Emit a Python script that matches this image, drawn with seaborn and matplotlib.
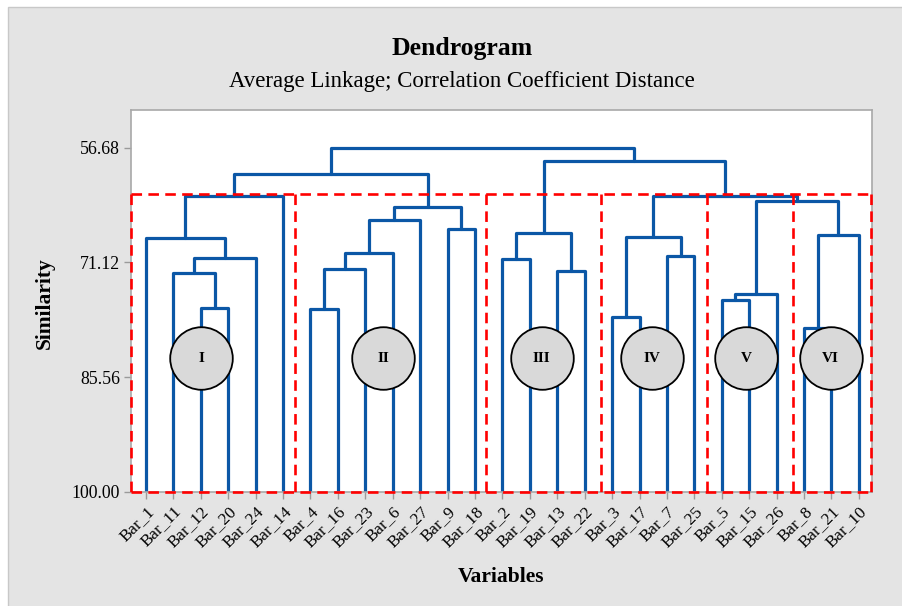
import numpy as np
import pandas as pd
import matplotlib.pyplot as plt
import seaborn as sns
from matplotlib.patches import Rectangle

# ── DATA ──────────────────────────────────────────────────
leaves = ["Bar_1", "Bar_11", "Bar_12", "Bar_20", "Bar_24", "Bar_14",
          "Bar_4", "Bar_16", "Bar_23", "Bar_6", "Bar_27", "Bar_9", "Bar_18",
          "Bar_2", "Bar_19", "Bar_13", "Bar_22",
          "Bar_3", "Bar_17", "Bar_7", "Bar_25",
          "Bar_5", "Bar_15", "Bar_26",
          "Bar_8", "Bar_21", "Bar_10"]

# merges: new cluster C<n> joins left + right at given similarity
merge_left = ["Bar_12", "Bar_11", "C2", "Bar_1", "C4",
              "Bar_4", "C6", "C7", "C8", "Bar_9", "C9", "C5",
              "Bar_2", "Bar_13", "C13",
              "Bar_3", "Bar_7", "C16",
              "Bar_5", "C19", "Bar_8", "C21", "C20", "C18", "C15", "C12"]
merge_right = ["Bar_20", "C1", "Bar_24", "C3", "Bar_14",
               "Bar_16", "Bar_23", "Bar_6", "Bar_27", "Bar_18", "C10", "C11",
               "Bar_19", "Bar_22", "C14",
               "Bar_17", "Bar_25", "C17",
               "Bar_15", "Bar_26", "Bar_21", "Bar_10", "C22", "C23", "C24", "C25"]
merge_sim = [76.89, 72.41, 70.60, 68.00, 62.72,
             77.01, 71.98, 69.89, 65.78, 66.87, 64.10, 60.03,
             70.65, 72.23, 67.45,
             78.02, 70.31, 67.88,
             75.84, 75.12, 79.40, 67.66, 63.39, 62.76, 58.35, 56.68]

groups = ["I", "II", "III", "IV", "V", "VI"]
y_ticks = [56.68, 71.12, 85.56, 100.00]

# ── LAYOUT (positions only) ───────────────────────────────
group_edges = [0.45, 6.44, 13.40, 17.60, 21.46, 24.59, 27.44]
cut_level = 62.54
circle_x = [3.02, 9.66, 15.43, 19.46, 22.90, 25.97]
circle_y = 83.18

# ── BUILD SEGMENTS ────────────────────────────────────────
pos = {name: i + 1 for i, name in enumerate(leaves)}
height = {name: 100.0 for name in leaves}
rows = []
for k, (a, b, s) in enumerate(zip(merge_left, merge_right, merge_sim)):
    name = f"C{k + 1}"
    xa, xb = pos[a], pos[b]
    for px, py in [(xa, height[a]), (xa, s), (xb, s), (xb, height[b])]:
        rows.append({"seg": k, "x": px, "y": py})
    pos[name] = (xa + xb) / 2
    height[name] = s
seg_df = pd.DataFrame(rows)
circ_df = pd.DataFrame({"x": circle_x, "y": [circle_y] * len(groups), "g": groups})

# ── STYLE ─────────────────────────────────────────────────
sns.set_theme(style="white")
plt.rcParams["font.family"] = ["Liberation Serif", "DejaVu Serif"]
plt.rcParams["text.color"] = "black"
plt.rcParams["xtick.labelcolor"] = "black"
plt.rcParams["ytick.labelcolor"] = "black"

fig = plt.figure(figsize=(9.03, 6.06), dpi=100, facecolor="white")
fig.patches.append(Rectangle((8 / 903, -0.01), 1.0, 1 - 7 / 606 + 0.01,
                             transform=fig.transFigure, facecolor="#e4e4e4",
                             edgecolor="#c8c8c8", lw=1.0, zorder=-10))
ax = fig.add_axes([131 / 903, 1 - 492 / 606, (872 - 131) / 903, (492 - 110) / 606])
ax.set_facecolor("white")

# dashed cluster boxes (each edge drawn once)
dash = dict(colors="#ff0000", lw=1.9, linestyles=[(0, (4, 2.4))], zorder=3,
            clip_on=False)
ax.hlines([cut_level, 100], group_edges[0], group_edges[-1], **dash)
ax.vlines(group_edges, cut_level, 100, **dash)

sns.lineplot(data=seg_df, x="x", y="y", units="seg", estimator=None, sort=False,
             color="#0b57a6", lw=2.3, ax=ax, zorder=2, legend=False)

sns.scatterplot(data=circ_df, x="x", y="y", s=2030, color="#d9d9d9",
                edgecolor="black", linewidth=1.3, ax=ax, zorder=4, legend=False)
for gx, g in zip(circle_x, groups):
    ax.text(gx, circle_y, g, ha="center", va="center", fontsize=11,
            fontweight="bold", color="black", zorder=5)

ax.set_xlim(0.453, 27.48)
ax.set_ylim(100, 51.94)
ax.set_xticks(range(1, len(leaves) + 1))
ax.set_xticklabels(leaves, rotation=45, ha="right", rotation_mode="anchor",
                   fontsize=12.3)
ax.set_yticks(y_ticks)
ax.set_yticklabels([f"{v:.2f}" for v in y_ticks], fontsize=12.8)
ax.tick_params(axis="both", direction="out", length=5, width=1, color="#9a9a9a",
               bottom=True, left=True, pad=3)
for sp in ax.spines.values():
    sp.set_color("#a8a8a8")
    sp.set_linewidth(1.2)
ax.set_xlabel("")
ax.set_ylabel("")

fig.text(462 / 903, 1 - 49 / 606, "Dendrogram", ha="center", va="center",
         fontsize=18.5, fontweight="bold")
fig.text(462 / 903, 1 - 81 / 606, "Average Linkage; Correlation Coefficient Distance",
         ha="center", va="center", fontsize=16.5)
fig.text(501 / 903, 1 - 577 / 606, "Variables", ha="center", va="center",
         fontsize=15.5, fontweight="bold")
fig.text(45 / 903, 1 - 303 / 606, "Similarity", ha="center", va="center",
         rotation=90, fontsize=15.5, fontweight="bold")

fig.savefig("out.png", dpi=100, facecolor=fig.get_facecolor())
